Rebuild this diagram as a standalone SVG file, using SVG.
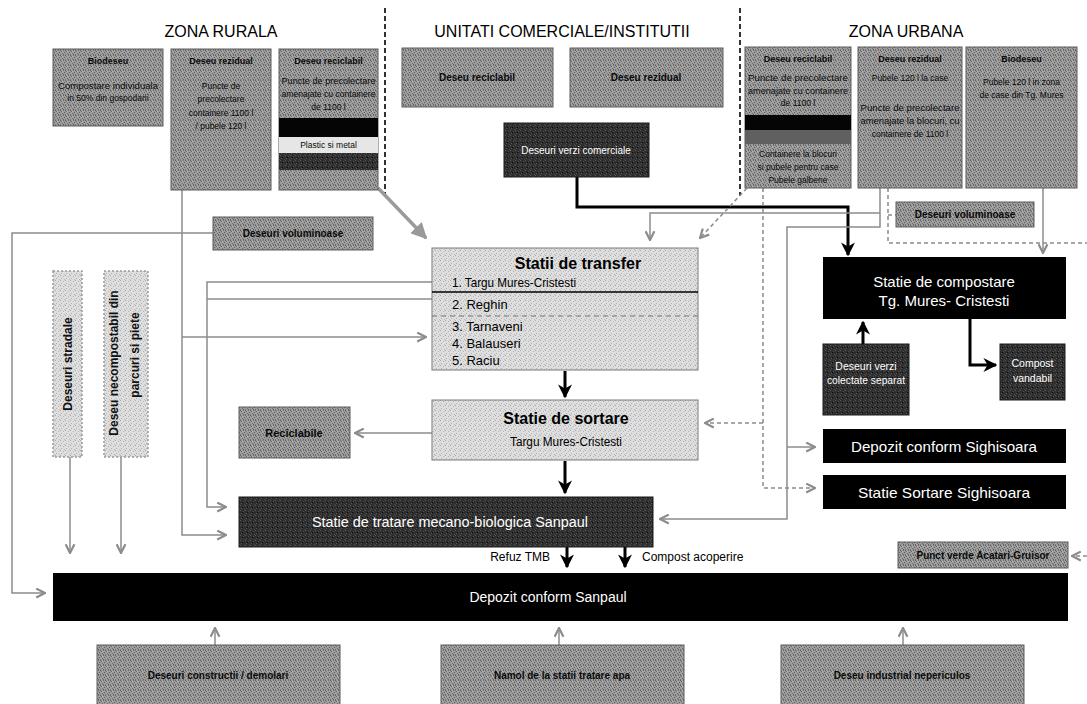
<svg xmlns="http://www.w3.org/2000/svg" width="1087" height="704" viewBox="0 0 1087 704">
<defs>
<pattern id="ht" width="5" height="5" patternUnits="userSpaceOnUse"><rect width="5" height="5" fill="#9e9e9e"/><rect x="0" y="0" width="1" height="1" fill="#5e5e5e"/><rect x="3" y="0" width="1" height="1" fill="#707070"/><rect x="1" y="1" width="1" height="1" fill="#666"/><rect x="4" y="2" width="1" height="1" fill="#5a5a5a"/><rect x="2" y="3" width="1" height="1" fill="#6c6c6c"/><rect x="0" y="4" width="1" height="1" fill="#777"/><rect x="3" y="4" width="1" height="1" fill="#626262"/><rect x="2" y="1" width="1" height="1" fill="#b4b4b4"/></pattern>
<pattern id="htd" width="5" height="5" patternUnits="userSpaceOnUse"><rect width="5" height="5" fill="#2e2e2e"/><rect x="0" y="0" width="1" height="1" fill="#5a5a5a"/><rect x="3" y="1" width="1" height="1" fill="#4e4e4e"/><rect x="1" y="3" width="1" height="1" fill="#555"/><rect x="4" y="4" width="1" height="1" fill="#4a4a4a"/><rect x="2" y="2" width="1" height="1" fill="#0a0a0a"/></pattern>
<pattern id="htl" width="5" height="5" patternUnits="userSpaceOnUse"><rect width="5" height="5" fill="#dedede"/><rect x="0" y="0" width="1" height="1" fill="#a8a8a8"/><rect x="3" y="1" width="1" height="1" fill="#b4b4b4"/><rect x="1" y="3" width="1" height="1" fill="#b0b0b0"/><rect x="4" y="4" width="1" height="1" fill="#bbbbbb"/></pattern>
<marker id="ag" viewBox="0 0 10 10" refX="9" refY="5" markerWidth="11" markerHeight="11" markerUnits="userSpaceOnUse" orient="auto"><path d="M1,1 L9,5 L1,9" fill="none" stroke="#8c8c8c" stroke-width="2"/></marker>
<marker id="ad" viewBox="0 0 10 10" refX="9" refY="5" markerWidth="16" markerHeight="16" markerUnits="userSpaceOnUse" orient="auto"><path d="M0,0 L10,5 L0,10 z" fill="#999"/></marker>
<marker id="ab" viewBox="0 0 10 10" refX="9" refY="5" markerWidth="14" markerHeight="14" markerUnits="userSpaceOnUse" orient="auto"><path d="M0,0 L10,5 L0,10 L3,5 z" fill="#000"/></marker>
<style>
text{font-family:"Liberation Sans",Arial,Helvetica,sans-serif}
.t{font-size:16px;fill:#000;text-anchor:middle}
.g{fill:url(#ht);stroke:#5c5c5c;stroke-width:1}
.d{fill:url(#htd);stroke:#1a1a1a;stroke-width:1}
.l{fill:url(#htl);stroke:#7a7a7a;stroke-width:1}
.v{fill:url(#htl);stroke:#9a9a9a;stroke-width:1.5;stroke-dasharray:2 2}
.k{fill:#000}
.s{font-size:8.5px;fill:#0a0a0a;text-anchor:middle}
.sb{font-size:9px;font-weight:bold;fill:#0a0a0a;text-anchor:middle}
.b{font-size:10px;font-weight:bold;fill:#0a0a0a;text-anchor:middle}
.w{fill:#fff;text-anchor:middle}
.c{fill:none;stroke:#8c8c8c;stroke-width:1.5}
.cd{fill:none;stroke:#8c8c8c;stroke-width:1.5;stroke-dasharray:4 3}
.cb{fill:none;stroke:#000;stroke-width:3}
.dl{fill:none;stroke:#000;stroke-width:1.6;stroke-dasharray:5 3}
</style>
</defs>
<rect width="1087" height="704" fill="#fff"/>

<g id="titles">
<text class="t" x="221" y="37">ZONA RURALA</text>
<text class="t" x="562" y="37">UNITATI COMERCIALE/INSTITUTII</text>
<text class="t" x="906" y="37">ZONA URBANA</text>
<line class="dl" x1="385" y1="8" x2="385" y2="196"/>
<line class="dl" x1="740" y1="8" x2="740" y2="196"/>
</g>

<g id="connectors">
<path class="c" d="M182,190 V535 H226" marker-end="url(#ag)"/>
<path class="c" d="M182,337 H426" marker-end="url(#ag)"/>
<path class="c" d="M432,282 H207 V507 H226" marker-end="url(#ag)"/>
<path class="c" d="M207,299 H432"/>
<path class="c" d="M213,233 H12 V593 H45" marker-end="url(#ag)"/>
<path class="c" d="M70,457 V553" marker-end="url(#ag)"/>
<path class="c" d="M121,457 V553" marker-end="url(#ag)"/>
<path d="M378,188 L426,238" fill="none" stroke="#9a9a9a" stroke-width="3.5" marker-end="url(#ad)"/>
<path class="c" d="M432,433 H355" marker-end="url(#ag)"/>
<path class="cb" d="M565,371 V397" marker-end="url(#ab)"/>
<path class="cb" d="M565,461 V493" marker-end="url(#ab)"/>
<path class="cb" d="M567,547 V567" marker-end="url(#ab)"/>
<path class="cb" d="M625,547 V567" marker-end="url(#ab)"/>
<path class="cb" d="M577,177 V207 H848 V255" marker-end="url(#ab)"/>
<path class="cd" d="M747,188 L700,238" marker-end="url(#ag)"/>
<path class="c" d="M880,188 V227 H787 V519 H660" marker-end="url(#ag)"/>
<path class="c" d="M880,213 H650 V240" marker-end="url(#ag)"/>
<path class="c" d="M787,447 H815" marker-end="url(#ag)"/>
<path class="cd" d="M763,188 V488 H815" marker-end="url(#ag)"/>
<path class="cd" d="M763,423 H705" marker-end="url(#ag)"/>
<path class="cd" d="M888,188 V243 H1087"/>
<path class="cd" d="M888,215 H896"/>
<path class="c" d="M1043,188 V253" marker-end="url(#ag)"/>
<path class="cb" d="M863,344 V322" marker-end="url(#ab)"/>
<path class="cb" d="M970,319 V365 H996" marker-end="url(#ab)"/>
<path class="cd" d="M1087,556 H1072" marker-end="url(#ag)"/>
<path class="c" d="M215,645 V628" marker-end="url(#ag)"/>
<path class="c" d="M559,645 V628" marker-end="url(#ag)"/>
<path class="c" d="M903,645 V628" marker-end="url(#ag)"/>
<text x="550" y="561" font-size="12" text-anchor="end" fill="#000">Refuz TMB</text>
<text x="642" y="561" font-size="12" fill="#000">Compost acoperire</text>
</g>

<g id="rural-biodeseu">
<rect class="g" x="53" y="49" width="110" height="77"/>
<text class="sb" x="108" y="64">Biodeseu</text>
<text class="s" x="108" y="89" textLength="100" lengthAdjust="spacingAndGlyphs">Compostare individuala</text>
<text class="s" x="108" y="101">in 50% din gospodarii</text>
</g>
<g id="rural-rezidual">
<rect class="g" x="171" y="49" width="100" height="141"/>
<text class="sb" x="221" y="64">Deseu rezidual</text>
<text class="s" x="221" y="89">Puncte de</text>
<text class="s" x="221" y="102">precolectare</text>
<text class="s" x="221" y="116">containere 1100 l</text>
<text class="s" x="221" y="129">/ pubele 120 l</text>
</g>
<g id="rural-reciclabil">
<rect class="g" x="279" y="49" width="99" height="141"/>
<rect x="279" y="118" width="99" height="19" fill="#050505"/>
<rect x="279" y="137" width="99" height="16" fill="#e6e6e6"/>
<rect x="279" y="153" width="99" height="17" fill="url(#htd)"/>
<text class="sb" x="328.5" y="64">Deseu reciclabil</text>
<text class="s" x="328.5" y="84" textLength="94" lengthAdjust="spacingAndGlyphs">Puncte de precolectare</text>
<text class="s" x="328.5" y="97" textLength="94" lengthAdjust="spacingAndGlyphs">amenajate cu containere</text>
<text class="s" x="328.5" y="110">de 1100 l</text>
<text class="s" x="328.5" y="148">Plastic si metal</text>
</g>

<g id="com-reciclabil">
<rect class="g" x="402" y="48" width="151" height="59"/>
<text class="b" x="477" y="81">Deseu reciclabil</text>
</g>
<g id="com-rezidual">
<rect class="g" x="570" y="48" width="153" height="59"/>
<text class="b" x="646" y="81">Deseu rezidual</text>
</g>
<g id="com-verzi">
<rect class="d" x="504" y="123" width="145" height="54"/>
<text class="w" x="576" y="154" font-size="10">Deseuri verzi comerciale</text>
</g>

<g id="urb-reciclabil">
<rect class="g" x="745" y="47" width="106" height="141"/>
<rect x="745" y="115" width="106" height="15" fill="#050505"/>
<rect x="745" y="130" width="106" height="14" fill="#606060"/>
<text class="sb" x="798" y="62">Deseu reciclabil</text>
<text class="s" x="798" y="81" textLength="100" lengthAdjust="spacingAndGlyphs">Puncte de precolectare</text>
<text class="s" x="798" y="94" textLength="100" lengthAdjust="spacingAndGlyphs">amenajate cu containere</text>
<text class="s" x="798" y="106">de 1100 l</text>
<text class="s" x="798" y="157">Containere la blocuri</text>
<text class="s" x="798" y="170">si pubele pentru case</text>
<text class="s" x="798" y="183">Pubele galbene</text>
</g>
<g id="urb-rezidual">
<rect class="g" x="858" y="47" width="104" height="141"/>
<text class="sb" x="910" y="62">Deseu rezidual</text>
<text class="s" x="910" y="81">Pubele 120 l la case</text>
<text class="s" x="910" y="111" textLength="99" lengthAdjust="spacingAndGlyphs">Puncte de precolectare</text>
<text class="s" x="910" y="124" textLength="99" lengthAdjust="spacingAndGlyphs">amenajate la blocuri, cu</text>
<text class="s" x="910" y="137">containere de 1100 l</text>
</g>
<g id="urb-biodeseu">
<rect class="g" x="966" y="47" width="111" height="141"/>
<text class="sb" x="1021.5" y="62">Biodeseu</text>
<text class="s" x="1021.5" y="85">Pubele 120 l in zona</text>
<text class="s" x="1021.5" y="98">de case din Tg. Mures</text>
</g>

<g id="voluminoase-rural">
<rect class="g" x="213" y="217" width="160" height="33"/>
<text class="b" x="293" y="237">Deseuri voluminoase</text>
</g>
<g id="voluminoase-urban">
<rect class="g" x="896" y="202" width="138" height="25"/>
<text class="b" x="965" y="218">Deseuri voluminoase</text>
</g>

<g id="stradale">
<rect class="v" x="53" y="271" width="29" height="186"/>
<text transform="translate(72,364) rotate(-90)" font-size="12" font-weight="bold" fill="#111" text-anchor="middle">Deseuri stradale</text>
</g>
<g id="necompostabil">
<rect class="v" x="104" y="271" width="44" height="186"/>
<text transform="translate(118,363) rotate(-90)" font-size="12" font-weight="bold" fill="#111" text-anchor="middle">Deseu necompostabil din</text>
<text transform="translate(139,355) rotate(-90)" font-size="12" font-weight="bold" fill="#111" text-anchor="middle">parcuri si piete</text>
</g>

<g id="statii-transfer">
<rect class="l" x="432" y="248" width="266" height="122"/>
<line x1="432" y1="292" x2="698" y2="292" stroke="#000" stroke-width="1.5"/>
<line x1="432" y1="316" x2="698" y2="316" stroke="#777" stroke-width="1" stroke-dasharray="5 4"/>
<text x="578" y="269" font-size="16" font-weight="bold" fill="#000" text-anchor="middle">Statii de transfer</text>
<text x="452" y="287" font-size="13" fill="#000" textLength="124" lengthAdjust="spacingAndGlyphs">1. Targu Mures-Cristesti</text>
<text x="452" y="309" font-size="13" fill="#000">2. Reghin</text>
<text x="452" y="331" font-size="13" fill="#000">3. Tarnaveni</text>
<text x="452" y="348" font-size="13" fill="#000">4. Balauseri</text>
<text x="452" y="365" font-size="13" fill="#000">5. Raciu</text>
</g>

<g id="statie-sortare">
<rect class="l" x="432" y="400" width="266" height="60"/>
<text x="566" y="424" font-size="16" font-weight="bold" fill="#000" text-anchor="middle">Statie de sortare</text>
<text x="566" y="446" font-size="12" fill="#000" text-anchor="middle" textLength="112" lengthAdjust="spacingAndGlyphs">Targu Mures-Cristesti</text>
</g>

<g id="reciclabile">
<rect class="g" x="239" y="407" width="111" height="51"/>
<text x="294" y="437" font-size="11" font-weight="bold" fill="#0a0a0a" text-anchor="middle">Reciclabile</text>
</g>

<g id="tmb">
<rect class="d" x="239" y="497" width="414" height="50"/>
<text class="w" x="450" y="527" font-size="14" textLength="276" lengthAdjust="spacingAndGlyphs">Statie de tratare mecano-biologica Sanpaul</text>
</g>

<g id="compostare">
<rect class="k" x="823" y="257" width="243" height="62"/>
<text class="w" x="944" y="287" font-size="15">Statie de compostare</text>
<text class="w" x="944" y="306" font-size="15">Tg. Mures- Cristesti</text>
</g>
<g id="verzi-separat">
<rect class="d" x="823" y="344" width="86" height="71"/>
<text class="w" x="866" y="370" font-size="10.5">Deseuri verzi</text>
<text class="w" x="866" y="384" font-size="10.5" textLength="78" lengthAdjust="spacingAndGlyphs">colectate separat</text>
</g>
<g id="compost-vandabil">
<rect class="d" x="1000" y="344" width="65" height="56"/>
<text class="w" x="1032.5" y="367" font-size="10.5">Compost</text>
<text class="w" x="1032.5" y="382" font-size="10.5">vandabil</text>
</g>
<g id="depozit-sighisoara">
<rect class="k" x="823" y="429" width="243" height="34"/>
<text class="w" x="944" y="452" font-size="15" textLength="186" lengthAdjust="spacingAndGlyphs">Depozit conform Sighisoara</text>
</g>
<g id="sortare-sighisoara">
<rect class="k" x="823" y="475" width="243" height="34"/>
<text class="w" x="944" y="498" font-size="15" textLength="172" lengthAdjust="spacingAndGlyphs">Statie Sortare Sighisoara</text>
</g>
<g id="punct-verde">
<rect class="g" x="898" y="542" width="170" height="26"/>
<text class="b" x="983" y="559" font-size="9">Punct verde Acatari-Gruisor</text>
</g>

<g id="depozit-sanpaul">
<rect class="k" x="53" y="573" width="1015" height="48"/>
<text class="w" x="548" y="602" font-size="14">Depozit conform Sanpaul</text>
</g>

<g id="constructii">
<rect class="g" x="97" y="645" width="243" height="62"/>
<text class="b" x="218" y="679">Deseuri constructii / demolari</text>
</g>
<g id="namol">
<rect class="g" x="441" y="645" width="243" height="62"/>
<text class="b" x="562" y="679">Namol de la statii tratare apa</text>
</g>
<g id="industrial">
<rect class="g" x="781" y="645" width="243" height="62"/>
<text class="b" x="902" y="679">Deseu industrial nepericulos</text>
</g>
</svg>
